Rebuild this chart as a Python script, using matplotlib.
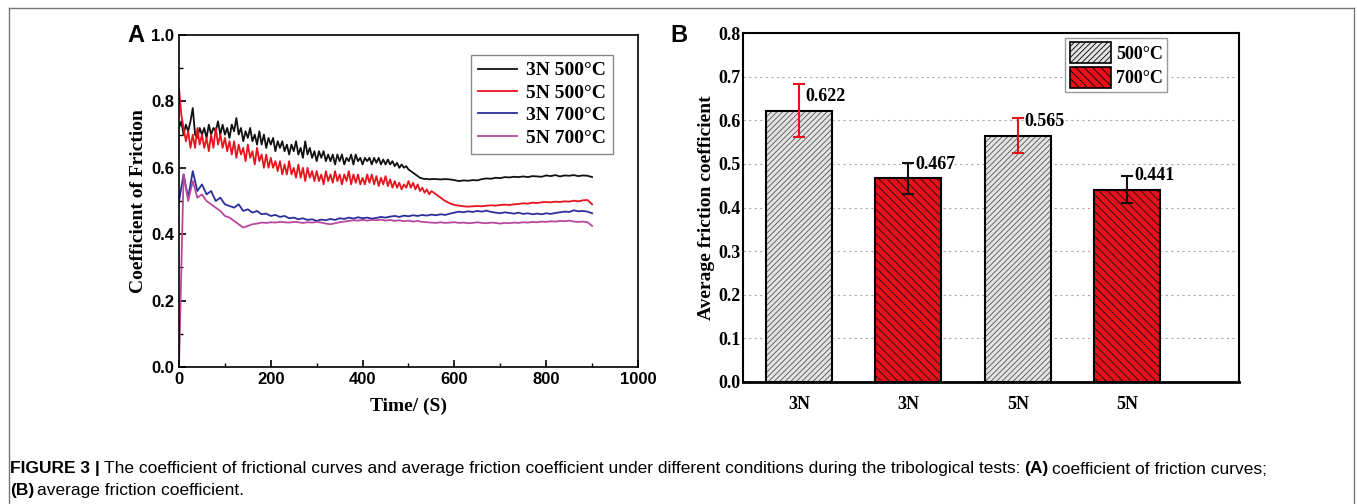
import numpy as np
import matplotlib
matplotlib.use('Agg')
import matplotlib.pyplot as plt
from matplotlib.lines import Line2D
from matplotlib.patches import Patch

W, H = 1357, 504

# ---- panel A: friction curves ----
# the 500°C runs are read every 5 s up to 550 s, then every 10 s
time_fine = np.concatenate([np.arange(0, 551, 5), np.arange(560, 901, 10)])
time_s = np.arange(0, 901, 10)

cof_3n_500 = [0.72, 0.74, 0.70, 0.73, 0.71, 0.74, 0.78, 0.70, 0.69, 0.72,
              0.70, 0.72, 0.69, 0.73, 0.70, 0.72, 0.71, 0.74, 0.70, 0.73,
              0.70, 0.72, 0.69, 0.73, 0.71, 0.75, 0.70, 0.72, 0.68, 0.71,
              0.69, 0.72, 0.68, 0.70, 0.67, 0.71, 0.67, 0.70, 0.66, 0.69,
              0.67, 0.69, 0.65, 0.68, 0.66, 0.68, 0.65, 0.67, 0.64, 0.67,
              0.65, 0.68, 0.64, 0.66, 0.63, 0.68, 0.64, 0.66, 0.63, 0.65,
              0.62, 0.65, 0.63, 0.65, 0.62, 0.64, 0.62, 0.64, 0.61, 0.64,
              0.62, 0.64, 0.61, 0.63, 0.62, 0.64, 0.61, 0.64, 0.62, 0.63,
              0.61, 0.63, 0.62, 0.63, 0.61, 0.63, 0.615, 0.63, 0.61, 0.625,
              0.61, 0.625, 0.61, 0.62, 0.605, 0.615, 0.60, 0.61, 0.60, 0.605,
              0.595, 0.59, 0.585, 0.58, 0.575, 0.57, 0.568, 0.566, 0.567, 0.565,
              0.566,
              0.566, 0.565, 0.566, 0.565, 0.563, 0.56, 0.562, 0.561, 0.563, 0.562,
              0.566, 0.568, 0.567, 0.57, 0.569, 0.572, 0.571, 0.573, 0.572, 0.574,
              0.572, 0.575, 0.574, 0.573, 0.577, 0.575, 0.578, 0.574, 0.577, 0.576,
              0.578, 0.575, 0.577, 0.576, 0.572]

cof_5n_500 = [0.84, 0.76, 0.72, 0.68, 0.71, 0.66, 0.70, 0.66, 0.72, 0.67,
              0.70, 0.66, 0.69, 0.65, 0.70, 0.66, 0.72, 0.67, 0.70, 0.66,
              0.69, 0.65, 0.68, 0.64, 0.68, 0.63, 0.67, 0.64, 0.66, 0.62,
              0.67, 0.63, 0.65, 0.61, 0.66, 0.62, 0.64, 0.60, 0.64, 0.60,
              0.63, 0.60, 0.62, 0.59, 0.62, 0.58, 0.61, 0.58, 0.62, 0.58,
              0.60, 0.57, 0.61, 0.57, 0.60, 0.56, 0.60, 0.57, 0.59, 0.56,
              0.59, 0.56, 0.58, 0.55, 0.59, 0.56, 0.58, 0.555, 0.59, 0.56,
              0.58, 0.55, 0.58, 0.56, 0.59, 0.55, 0.58, 0.555, 0.58, 0.55,
              0.57, 0.55, 0.58, 0.555, 0.58, 0.55, 0.575, 0.545, 0.57, 0.55,
              0.575, 0.545, 0.565, 0.54, 0.56, 0.54, 0.555, 0.535, 0.55, 0.54,
              0.56, 0.54, 0.555, 0.535, 0.55, 0.53, 0.54, 0.525, 0.535, 0.52,
              0.53,
              0.52, 0.51, 0.50, 0.493, 0.488, 0.486, 0.484, 0.483, 0.484, 0.485,
              0.484, 0.486, 0.487, 0.486, 0.488, 0.489, 0.488, 0.49, 0.491, 0.493,
              0.492, 0.495, 0.494, 0.496, 0.497, 0.496, 0.498, 0.497, 0.499, 0.498,
              0.501, 0.499, 0.502, 0.503, 0.49]

cof_3n_700 = [0.50, 0.58, 0.51, 0.59, 0.53, 0.55, 0.52, 0.53, 0.50, 0.51,
              0.49, 0.485, 0.48, 0.49, 0.47, 0.475, 0.465, 0.47, 0.46, 0.462,
              0.455, 0.458, 0.452, 0.455, 0.448, 0.45, 0.445, 0.448, 0.443, 0.445,
              0.44, 0.444, 0.442, 0.446, 0.443, 0.448, 0.446, 0.45, 0.447, 0.451,
              0.448, 0.45, 0.447, 0.449, 0.452, 0.45, 0.453, 0.455, 0.452, 0.456,
              0.454, 0.457, 0.455, 0.458, 0.456, 0.459, 0.457, 0.46, 0.458, 0.462,
              0.465, 0.468, 0.466, 0.469, 0.467, 0.47, 0.468, 0.471, 0.467, 0.465,
              0.463, 0.466, 0.464, 0.462, 0.465, 0.461, 0.463, 0.46, 0.462, 0.46,
              0.463, 0.461, 0.464, 0.466, 0.468, 0.467, 0.472, 0.469, 0.47, 0.468,
              0.463]

cof_5n_700 = [0.0, 0.58, 0.50, 0.56, 0.51, 0.52, 0.50, 0.49, 0.48, 0.47,
              0.455, 0.45, 0.44, 0.43, 0.42, 0.425, 0.43, 0.432, 0.435, 0.434,
              0.436, 0.435, 0.437, 0.436, 0.435, 0.437, 0.436, 0.434, 0.436, 0.435,
              0.437, 0.435, 0.432, 0.43, 0.433, 0.436, 0.438, 0.44, 0.442, 0.441,
              0.443, 0.441, 0.443, 0.442, 0.444, 0.441, 0.443, 0.44, 0.442, 0.439,
              0.441, 0.438, 0.44, 0.437, 0.436, 0.435, 0.434, 0.436, 0.434, 0.435,
              0.436, 0.434, 0.435, 0.433, 0.434, 0.436, 0.434, 0.433, 0.435, 0.434,
              0.432, 0.434, 0.433, 0.435, 0.434, 0.436, 0.435, 0.437, 0.436, 0.438,
              0.437, 0.439, 0.438, 0.44, 0.439, 0.441, 0.438, 0.437, 0.438, 0.436,
              0.425]

curve_labels = ['3N 500°C', '5N 500°C', '3N 700°C', '5N 700°C']
curve_colors = ['#111111', '#e8141c', '#2b2f9c', '#b8489e']

# ---- panel B: average friction coefficient ----
bar_labels = ['3N', '3N', '5N', '5N']
bar_temps = ['500°C', '700°C', '500°C', '700°C']
bar_values = [0.622, 0.467, 0.565, 0.441]
bar_errors = [0.060, 0.035, 0.040, 0.031]

serif = ['Liberation Serif', 'DejaVu Serif']
sans = ['Liberation Sans', 'DejaVu Sans']

fig = plt.figure(figsize=(W / 100, H / 100), dpi=100)

def px_axes(left, top, right, bottom):
    return fig.add_axes([left / W, 1 - bottom / H, (right - left) / W, (bottom - top) / H])

# ---------- A ----------
ax = px_axes(179, 35, 638, 367)
curves = [(time_fine, cof_3n_500), (time_fine, cof_5n_500), (time_s, cof_3n_700), (time_s, cof_5n_700)]
for (xs, ys), lab, col in zip(curves, curve_labels, curve_colors):
    ax.plot(xs, ys, color=col, lw=1.3, label=lab)
ax.set_xlim(0, 1000)
ax.set_ylim(0, 1.0)
ax.set_xticks(np.arange(0, 1001, 200))
ax.set_xticks(np.arange(100, 1000, 200), minor=True)
ax.set_yticks(np.arange(0, 1.01, 0.2))
ax.set_yticks(np.arange(0.1, 1.0, 0.2), minor=True)
ax.set_yticklabels(['%.1f' % v for v in np.arange(0, 1.01, 0.2)])
ax.tick_params(which='both', direction='in', top=False, right=False)
ax.tick_params(which='major', length=5, width=1.2)
ax.tick_params(which='minor', length=3, width=1.0)
for t in ax.get_xticklabels() + ax.get_yticklabels():
    t.set_family(sans)
    t.set_fontweight('bold')
    t.set_fontsize(12)
for s in ax.spines.values():
    s.set_linewidth(1.2)
ax.set_xlabel('Time/ (S)', family=serif, fontweight='bold', fontsize=14, labelpad=8)
ax.set_ylabel('Coefficient of Friction', family=serif, fontweight='bold', fontsize=14, labelpad=3)
leg = ax.legend(loc='upper right', bbox_to_anchor=(0.9455, 0.94), borderaxespad=0,
                prop={'family': serif, 'weight': 'bold', 'size': 14},
                handlelength=2.0, fancybox=False, edgecolor='#888888', framealpha=1, borderpad=0.35,
                labelspacing=0.25, handletextpad=0.5)
leg.get_frame().set_linewidth(1.0)

# ---------- B ----------
bx = px_axes(743, 33, 1239, 382)
pos = np.arange(len(bar_values))
face = {'500°C': '#e3e3e3', '700°C': '#e8101a'}
hatch = {'500°C': '//////', '700°C': '\\\\\\\\'}
hcol = {'500°C': '#555555', '700°C': '#111111'}
ecol = {'500°C': '#e8101a', '700°C': '#111111'}
plt.rcParams['hatch.linewidth'] = 0.6
for i in range(len(bar_values)):
    tmp = bar_temps[i]
    bx.bar(pos[i], bar_values[i], width=0.6, color=face[tmp], edgecolor=hcol[tmp],
           hatch=hatch[tmp], linewidth=0, zorder=2)
    bx.bar(pos[i], bar_values[i], width=0.6, fill=False, edgecolor='black', linewidth=1.5, zorder=3)
    bx.errorbar(pos[i], bar_values[i], yerr=bar_errors[i], fmt='none', ecolor=ecol[tmp],
                elinewidth=1.5, capsize=4, capthick=1.5, zorder=4)
    bx.text(pos[i] + 0.06, bar_values[i] + 0.032, '%.3f' % bar_values[i], family=serif,
            fontweight='bold', fontsize=13, va='center', ha='left', zorder=5)
bx.set_xlim(-0.51, 4.02)
bx.set_ylim(0, 0.8)
bx.set_yticks(np.arange(0, 0.81, 0.1))
bx.set_yticklabels(['%.1f' % v for v in np.arange(0, 0.81, 0.1)])
bx.set_xticks(pos)
bx.set_xticklabels(bar_labels)
bx.tick_params(length=0, pad=2)
bx.tick_params(axis='x', pad=10)
for t in bx.get_xticklabels() + bx.get_yticklabels():
    t.set_family(serif)
    t.set_fontweight('bold')
    t.set_fontsize(13)
bx.yaxis.grid(True, linestyle=(0, (2, 3)), color='#aaaaaa', lw=0.8, zorder=0)
bx.set_axisbelow(True)
for s in bx.spines.values():
    s.set_linewidth(1.5)
bx.spines['bottom'].set_linewidth(2)
bx.set_ylabel('Average friction coefficient', family=serif, fontweight='bold', fontsize=14, labelpad=2)
handles = [Patch(facecolor=face[k], edgecolor=hcol[k], hatch=hatch[k], lw=0) for k in ['500°C', '700°C']]
lg = bx.legend(handles, ['500°C', '700°C'], loc='upper right', bbox_to_anchor=(0.855, 0.986),
               borderaxespad=0, prop={'family': serif, 'weight': 'bold', 'size': 13}, fancybox=False,
               edgecolor='#999999', framealpha=1, handlelength=2.3, handleheight=1.4,
               borderpad=0.25, labelspacing=0.2, handletextpad=0.25)
for p in lg.get_patches():
    p.set_edgecolor('black')
    p.set_linewidth(1.2)

# panel letters
fig.text(127 / W, 1 - 36 / H, 'A', family=sans, fontweight='bold', fontsize=17, va='center')
fig.text(670 / W, 1 - 36 / H, 'B', family=sans, fontweight='bold', fontsize=17, va='center')

# outer frame (open at the bottom)
frame_kw = dict(color='#777777', lw=1.0, transform=fig.transFigure)
fig.add_artist(Line2D([9 / W, 9 / W], [0, 1 - 8 / H], **frame_kw))
fig.add_artist(Line2D([9 / W, 1354 / W], [1 - 8 / H, 1 - 8 / H], **frame_kw))
fig.add_artist(Line2D([1354 / W, 1354 / W], [0, 1 - 8 / H], **frame_kw))

# caption
cap = ['Liberation Sans Narrow', 'Liberation Sans', 'DejaVu Sans']
fs = 12.5
t1 = fig.text(10 / W, 1 - 469 / H, 'FIGURE 3 |', family=cap, fontweight='bold', fontsize=fs, va='center')
fig.canvas.draw()
bb = t1.get_window_extent()
t2 = fig.text((bb.x1 + 4) / W, 1 - 469 / H,
              'The coefficient of frictional curves and average friction coefficient under different conditions '
              'during the tribological tests:', family=cap, fontsize=fs, va='center')
fig.canvas.draw()
bb2 = t2.get_window_extent()
t3 = fig.text((bb2.x1 + 4) / W, 1 - 469 / H, '(A)', family=cap, fontweight='bold', fontsize=fs, va='center')
fig.canvas.draw()
bb3 = t3.get_window_extent()
fig.text((bb3.x1 + 3) / W, 1 - 469 / H, 'coefficient of friction curves;', family=cap, fontsize=fs, va='center')
t5 = fig.text(10 / W, 1 - 491 / H, '(B)', family=cap, fontweight='bold', fontsize=fs, va='center')
fig.canvas.draw()
bb5 = t5.get_window_extent()
fig.text((bb5.x1 + 3) / W, 1 - 491 / H, 'average friction coefficient.', family=cap, fontsize=fs, va='center')

fig.savefig('out.png', dpi=100)
